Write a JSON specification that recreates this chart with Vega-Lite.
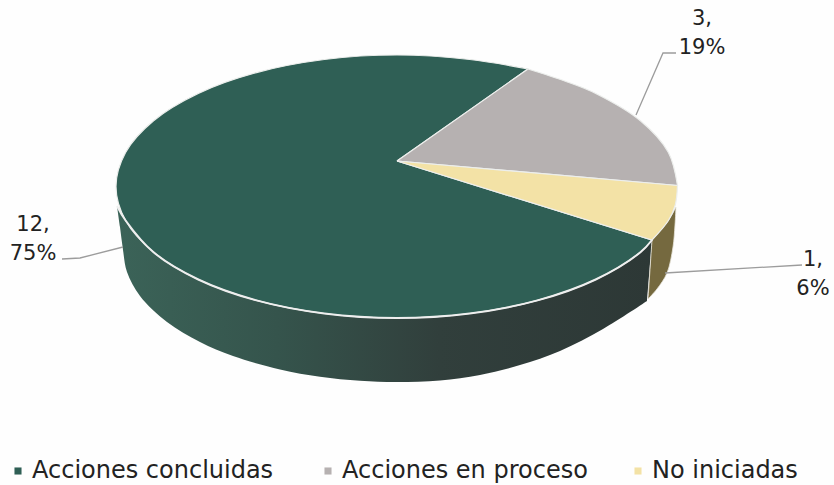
{"$schema":"https://vega.github.io/schema/vega-lite/v6.json","width":834,"height":485,"padding":0,"autosize":{"type":"none"},"background":"#fefefe","view":{"stroke":null},
"datasets":{
"top":[
{"part":"Acciones concluidas","i":1,"x":397,"y":161},{"part":"Acciones concluidas","i":2,"x":397,"y":161},{"part":"Acciones concluidas","i":3,"x":652,"y":240},{"part":"Acciones concluidas","i":4,"x":652,"y":240},{"part":"Acciones concluidas","i":5,"x":640.4,"y":252.3},{"part":"Acciones concluidas","i":6,"x":595.7,"y":279.5},{"part":"Acciones concluidas","i":7,"x":537.5,"y":300.4},{"part":"Acciones concluidas","i":8,"x":469.7,"y":313.5},{"part":"Acciones concluidas","i":9,"x":397,"y":318},{"part":"Acciones concluidas","i":10,"x":324.3,"y":313.5},{"part":"Acciones concluidas","i":11,"x":256.5,"y":300.4},{"part":"Acciones concluidas","i":12,"x":198.3,"y":279.5},{"part":"Acciones concluidas","i":13,"x":153.6,"y":252.3},{"part":"Acciones concluidas","i":14,"x":125.6,"y":220.5},{"part":"Acciones concluidas","i":15,"x":116,"y":186.5},{"part":"Acciones concluidas","i":16,"x":125.6,"y":152.5},{"part":"Acciones concluidas","i":17,"x":153.6,"y":120.8},{"part":"Acciones concluidas","i":18,"x":198.3,"y":93.5},{"part":"Acciones concluidas","i":19,"x":256.5,"y":72.6},{"part":"Acciones concluidas","i":20,"x":324.3,"y":59.5},{"part":"Acciones concluidas","i":21,"x":397,"y":55},{"part":"Acciones concluidas","i":22,"x":469.7,"y":59.5},{"part":"Acciones concluidas","i":23,"x":528,"y":69},{"part":"Acciones concluidas","i":24,"x":528,"y":69},{"part":"Acciones concluidas","i":25,"x":397,"y":161},{"part":"Acciones concluidas","i":26,"x":397,"y":161},
{"part":"Acciones en proceso","i":1,"x":397,"y":161},{"part":"Acciones en proceso","i":2,"x":397,"y":161},{"part":"Acciones en proceso","i":3,"x":528,"y":69},{"part":"Acciones en proceso","i":4,"x":528,"y":69},{"part":"Acciones en proceso","i":5,"x":566,"y":81.5},{"part":"Acciones en proceso","i":6,"x":595.7,"y":93.5},{"part":"Acciones en proceso","i":7,"x":640.4,"y":120.8},{"part":"Acciones en proceso","i":8,"x":668.4,"y":152.5},{"part":"Acciones en proceso","i":9,"x":677.5,"y":185.5},{"part":"Acciones en proceso","i":10,"x":677.5,"y":185.5},{"part":"Acciones en proceso","i":11,"x":397,"y":161},{"part":"Acciones en proceso","i":12,"x":397,"y":161},
{"part":"No iniciadas","i":1,"x":397,"y":161},{"part":"No iniciadas","i":2,"x":397,"y":161},{"part":"No iniciadas","i":3,"x":677.5,"y":185.5},{"part":"No iniciadas","i":4,"x":677.5,"y":185.5},{"part":"No iniciadas","i":5,"x":675.3,"y":204.8},{"part":"No iniciadas","i":6,"x":668.4,"y":220.5},{"part":"No iniciadas","i":7,"x":652,"y":240},{"part":"No iniciadas","i":8,"x":652,"y":240},{"part":"No iniciadas","i":9,"x":397,"y":161},{"part":"No iniciadas","i":10,"x":397,"y":161}
],
"wallGreen":[
{"i":1,"x":652,"y":240},{"i":2,"x":652,"y":240},{"i":3,"x":640.4,"y":252.3},{"i":4,"x":595.7,"y":279.5},{"i":5,"x":537.5,"y":300.4},{"i":6,"x":469.7,"y":313.5},{"i":7,"x":397,"y":318},{"i":8,"x":324.3,"y":313.5},{"i":9,"x":256.5,"y":300.4},{"i":10,"x":198.3,"y":279.5},{"i":11,"x":153.6,"y":252.3},{"i":12,"x":125.6,"y":220.5},{"i":13,"x":117,"y":206},{"i":14,"x":117,"y":206},{"i":15,"x":120,"y":227},{"i":16,"x":123,"y":250},{"i":17,"x":127,"y":272},{"i":18,"x":140,"y":296},{"i":19,"x":167,"y":322},{"i":20,"x":200,"y":342},{"i":21,"x":233,"y":356},{"i":22,"x":280,"y":369.4},{"i":23,"x":320,"y":376.7},{"i":24,"x":360,"y":380.8},{"i":25,"x":397,"y":382},{"i":26,"x":440,"y":380.5},{"i":27,"x":480,"y":375},{"i":28,"x":520,"y":365},{"i":29,"x":560,"y":351},{"i":30,"x":603,"y":329},{"i":31,"x":647,"y":301},{"i":32,"x":647,"y":301},{"i":33,"x":652,"y":240},{"i":34,"x":652,"y":240}
],
"wallYellow":[
{"i":1,"x":652,"y":240},{"i":2,"x":652,"y":240},{"i":3,"x":668.4,"y":220.5},{"i":4,"x":676,"y":207},{"i":5,"x":676,"y":207},{"i":6,"x":675,"y":225},{"i":7,"x":673,"y":247},{"i":8,"x":667,"y":273},{"i":9,"x":657,"y":289},{"i":10,"x":648,"y":299},{"i":11,"x":648,"y":299},{"i":12,"x":652,"y":240},{"i":13,"x":652,"y":240}
],
"rim":[
{"i":1,"x":652,"y":240},{"i":2,"x":640.4,"y":252.3},{"i":3,"x":595.7,"y":279.5},{"i":4,"x":537.5,"y":300.4},{"i":5,"x":469.7,"y":313.5},{"i":6,"x":397,"y":318},{"i":7,"x":324.3,"y":313.5},{"i":8,"x":256.5,"y":300.4},{"i":9,"x":198.3,"y":279.5},{"i":10,"x":153.6,"y":252.3},{"i":11,"x":125.6,"y":220.5},{"i":12,"x":117,"y":206}
],
"leaders":[
{"part":"a","i":1,"x":62,"y":259},{"part":"a","i":2,"x":80,"y":258},{"part":"a","i":3,"x":123,"y":247},
{"part":"b","i":1,"x":636,"y":115},{"part":"b","i":2,"x":663,"y":53},{"part":"b","i":3,"x":676,"y":53},
{"part":"c","i":1,"x":665,"y":273},{"part":"c","i":2,"x":802,"y":265}
],
"labels":[
{"part":"Acciones concluidas","value":12,"pct":"75%","label":"12,\n75%","x":33,"y":225},
{"part":"Acciones en proceso","value":3,"pct":"19%","label":"3,\n19%","x":702,"y":19},
{"part":"No iniciadas","value":1,"pct":"6%","label":"1,\n6%","x":813,"y":260}
]},
"encoding":{
"x":{"field":"x","type":"quantitative","scale":{"domain":[0,834]},"axis":null},
"y":{"field":"y","type":"quantitative","scale":{"domain":[485,0]},"axis":null},
"order":{"field":"i","type":"quantitative"}},
"layer":[
{"data":{"name":"wallGreen"},"mark":{"type":"line","filled":true,"interpolate":"catmull-rom","stroke":null,"fill":{"gradient":"linear","x1":0,"y1":0,"x2":1,"y2":0,"stops":[{"offset":0,"color":"#3b6358"},{"offset":0.3,"color":"#35544c"},{"offset":0.6,"color":"#313f3c"},{"offset":1,"color":"#2d3836"}]}}},
{"data":{"name":"wallYellow"},"mark":{"type":"line","filled":true,"interpolate":"catmull-rom","stroke":"#e8e6dc","strokeWidth":0.8,"fill":"#75693f"}},
{"data":{"name":"top"},"mark":{"type":"line","filled":true,"interpolate":"catmull-rom","stroke":"#eceeec","strokeWidth":1.2},
"encoding":{"color":{"field":"part","type":"nominal","scale":{"domain":["Acciones concluidas","Acciones en proceso","No iniciadas"],"range":["#2f5f55","#b6b1b1","#f3e2a6"]},
"legend":{"title":null,"orient":"none","legendX":6,"legendY":459,"direction":"horizontal","columns":3,"gridAlign":"all","symbolType":"square","symbolSize":50,"symbolStrokeWidth":0,"labelFont":"DejaVu Sans","labelFontSize":24,"labelColor":"#222222","labelLimit":300,"labelOffset":2,"columnPadding":38}}}},
{"data":{"name":"rim"},"mark":{"type":"line","interpolate":"catmull-rom","stroke":"#eeeeee","strokeWidth":2}},
{"data":{"name":"leaders"},"mark":{"type":"line","stroke":"#9c9c9c","strokeWidth":1.3},"encoding":{"detail":{"field":"part"}}},
{"data":{"name":"labels"},"mark":{"type":"text","font":"DejaVu Sans","fontSize":21,"lineBreak":"\n","lineHeight":29,"color":"#222222","align":"center","baseline":"middle"},"encoding":{"text":{"field":"label"},"order":null}}
]}
